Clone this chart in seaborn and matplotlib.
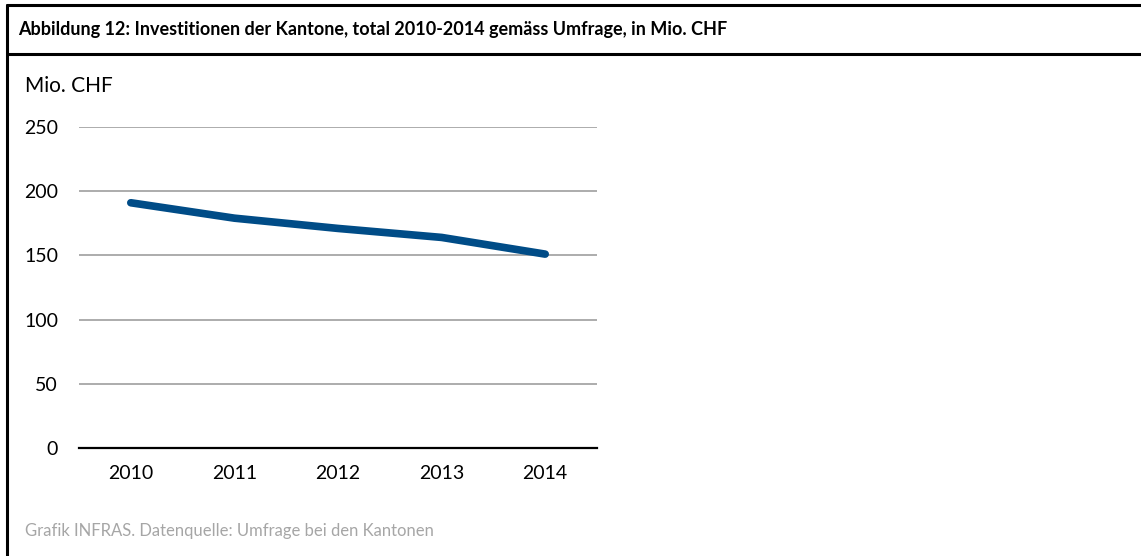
import matplotlib
matplotlib.use("Agg")
import matplotlib.pyplot as plt
import seaborn as sns
import pandas as pd
from matplotlib.lines import Line2D

years = ["2010", "2011", "2012", "2013", "2014"]
values = [191, 179, 171, 164, 151]
yticks = [0, 50, 100, 150, 200, 250]
title = "Abbildung 12: Investitionen der Kantone, total 2010-2014 gemäss Umfrage, in Mio. CHF"
unit = "Mio. CHF"
source = "Grafik INFRAS. Datenquelle: Umfrage bei den Kantonen"

sns.set_theme(style="white")
plt.rcParams["font.family"] = ["Lato", "DejaVu Sans"]

W, H = 1141, 556
fig = plt.figure(figsize=(W / 100, H / 100), dpi=100)
fig.patch.set_facecolor("white")

ax = fig.add_axes([79 / W, 1 - 448 / H, (597 - 79) / W, (448 - 127) / H])
df = pd.DataFrame({"year": years, "value": values})
sns.lineplot(data=df, x="year", y="value", ax=ax, color="#004C87",
             linewidth=5.5, solid_capstyle="round", sort=False)

ax.set_xlim(-0.5, len(years) - 0.5)
ax.set_ylim(0, 250)
ax.set_yticks(yticks)
ax.set_yticklabels([str(v) for v in yticks])
ax.yaxis.grid(True, color="#A6A6A6", linewidth=1.3)
ax.xaxis.grid(False)
ax.set_axisbelow(True)
for s in ["top", "right", "left"]:
    ax.spines[s].set_visible(False)
ax.spines["bottom"].set_color("black")
ax.spines["bottom"].set_linewidth(1.6)
ax.tick_params(axis="both", length=0, labelsize=14, colors="black")
ax.tick_params(axis="y", pad=15)
ax.tick_params(axis="x", pad=12)
ax.set_xlabel("")
ax.set_ylabel("")
ax.set_facecolor("white")

# frame lines
fig.add_artist(Line2D([7 / W, 1], [1 - 5 / H, 1 - 5 / H], color="black", linewidth=2.2, transform=fig.transFigure))
fig.add_artist(Line2D([7 / W, 1], [1 - 54 / H, 1 - 54 / H], color="black", linewidth=2.2, transform=fig.transFigure))
fig.add_artist(Line2D([7 / W, 7 / W], [1 - 5 / H, 0], color="black", linewidth=2.2, transform=fig.transFigure))

fig.text(18 / W, 1 - 29 / H, title, fontsize=13, fontweight="bold", va="center", ha="left", color="black")
fig.text(25 / W, 1 - 86 / H, unit, fontsize=15, va="center", ha="left", color="black")
fig.text(25 / W, 1 - 531 / H, source, fontsize=12, va="center", ha="left", color="#A6A6A6")

fig.savefig("out.png", dpi=100, facecolor="white")
